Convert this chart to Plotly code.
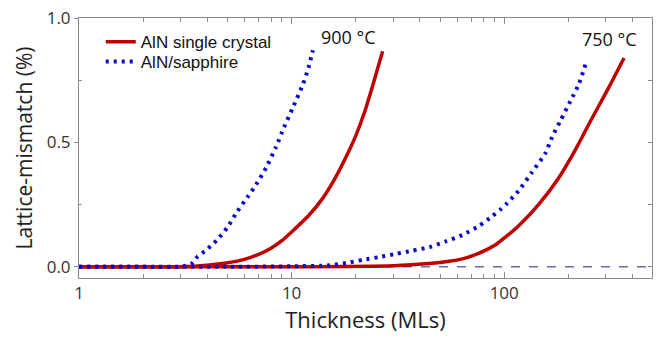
import math
import plotly.graph_objects as go

# Data
red900_x = [1, 2, 3, 3.5, 4, 4.5, 5, 6, 7, 8, 9, 10, 12, 14, 16, 18, 20, 22, 24, 26.8]
red900_y = [0, 0, 0, 0.002, 0.006, 0.011, 0.016, 0.030, 0.050, 0.075, 0.105, 0.14, 0.205, 0.275, 0.355, 0.44, 0.525, 0.62, 0.725, 0.866]

blue900_x = [1, 2, 3, 3.38, 3.6, 4.0, 4.43, 5.0, 5.5, 6.2, 6.8, 7.6, 8.45, 9.2, 10.1, 11.3, 12.0, 12.6]
blue900_y = [0, 0, 0, 0.012, 0.04, 0.07, 0.105, 0.16, 0.217, 0.28, 0.33, 0.40, 0.482, 0.56, 0.637, 0.733, 0.80, 0.87]

blue750_x = [1, 5, 10, 15.1, 18, 21.6, 25.8, 30.9, 37, 44.4, 53.1, 63.6, 76.3, 88, 96.3, 103.6, 117, 135, 156, 168, 184, 205, 224, 243]
blue750_y = [0, 0, 0.002, 0.006, 0.015, 0.028, 0.039, 0.052, 0.065, 0.079, 0.102, 0.128, 0.165, 0.204, 0.231, 0.257, 0.306, 0.38, 0.456, 0.522, 0.588, 0.667, 0.733, 0.822]

red750_x = [1, 10, 30, 44.4, 55, 63.6, 76.3, 91.5, 105, 117, 145, 180, 216, 258, 310, 366]
red750_y = [0, 0, 0.004, 0.013, 0.022, 0.032, 0.055, 0.09, 0.13, 0.165, 0.25, 0.356, 0.47, 0.595, 0.72, 0.839]

x_ticks = [1, 10, 100]
x_ticklabels = ["1", "10", "100"]
x_minor = [2, 3, 4, 5, 6, 7, 8, 9, 20, 30, 40, 50, 60, 70, 80, 90, 200, 300, 400]
y_ticks = [0.0, 0.5, 1.0]
y_ticklabels = ["0.0", "0.5", "1.0"]

labels = ["900 °C", "750 °C"]
label_x = [18.5, 311.0]
label_y = [0.925, 0.917]

RED = "#c00000"
BLUE = "#0a0acc"
font = "Open Sans"

fig = go.Figure()
fig.add_trace(go.Scatter(x=red900_x, y=red900_y, mode="lines",
                         line=dict(color=RED, width=3.5, shape="spline", smoothing=0.6),
                         name="AlN single crystal", legend="legend"))
fig.add_trace(go.Scatter(x=red750_x, y=red750_y, mode="lines",
                         line=dict(color=RED, width=3.5, shape="spline", smoothing=0.6),
                         name="AlN single crystal", showlegend=False))
fig.add_trace(go.Scatter(x=blue900_x, y=blue900_y, mode="lines",
                         line=dict(color=BLUE, width=4, dash="3px,5px", shape="spline", smoothing=0.6),
                         name="AlN/sapphire", legend="legend2"))
fig.add_trace(go.Scatter(x=blue750_x, y=blue750_y, mode="lines",
                         line=dict(color=BLUE, width=4, dash="3px,5px", shape="spline", smoothing=0.6),
                         name="AlN/sapphire", showlegend=False))

fig.add_shape(type="line", xref="paper", x0=0, x1=1, yref="y", y0=0, y1=0,
              line=dict(color="#6a6ab8", width=1.5, dash="dash"), layer="below")

for t, lx, ly in zip(labels, label_x, label_y):
    fig.add_annotation(x=math.log10(lx), y=ly, xref="x", yref="y", text=t, showarrow=False,
                       font=dict(family=font, size=18, color="#111"), xanchor="center", yanchor="middle")

axis_line = "#8a8a8a"
leg_font = dict(family="Liberation Sans", size=17, color="#111")
fig.update_layout(
    width=659, height=338,
    margin=dict(l=79, r=6, t=15, b=60),
    paper_bgcolor="white", plot_bgcolor="white",
    showlegend=True,
    legend=dict(x=0.038, y=0.976, xanchor="left", yanchor="top", bgcolor="rgba(0,0,0,0)", font=leg_font),
    legend2=dict(x=0.038, y=0.9, xanchor="left", yanchor="top", bgcolor="rgba(0,0,0,0)", font=leg_font),
    xaxis=dict(type="log", range=[0, 2.695], tickvals=x_ticks, ticktext=x_ticklabels,
               ticks="inside", ticklen=6, tickcolor=axis_line, showline=True, linecolor=axis_line,
               linewidth=1, mirror="ticks", showgrid=False, zeroline=False,
               tickfont=dict(family=font, size=17, color="#333"),
               minor=dict(tickvals=x_minor, ticks="inside", ticklen=4, tickcolor=axis_line, showgrid=False),
               title=dict(text="Thickness (MLs)", font=dict(family=font, size=22, color="#222"), standoff=6)),
    yaxis=dict(range=[-0.045, 1.0], tickvals=y_ticks, ticktext=y_ticklabels,
               ticks="outside", ticklen=4, tickcolor=axis_line, showline=True, linecolor=axis_line,
               linewidth=1, mirror=True, showgrid=False, zeroline=False,
               tickfont=dict(family=font, size=17, color="#333"),
               minor=dict(tickvals=[0.25, 0.75], ticks="inside", ticklen=3, tickcolor=axis_line, showgrid=False),
               title=dict(text="Lattice-mismatch (%)", font=dict(family=font, size=21, color="#222"), standoff=8)),
    yaxis2=dict(overlaying="y", side="right", range=[-0.045, 1.0], tickvals=[0.0, 0.25, 0.5, 0.75, 1.0],
                showticklabels=False, ticks="inside", ticklen=4, tickcolor=axis_line,
                showline=False, showgrid=False, zeroline=False),
)
fig.add_trace(go.Scatter(x=[1], y=[0], yaxis="y2", mode="markers", marker=dict(opacity=0),
                         showlegend=False, hoverinfo="skip"))

fig.write_html("out.html")
